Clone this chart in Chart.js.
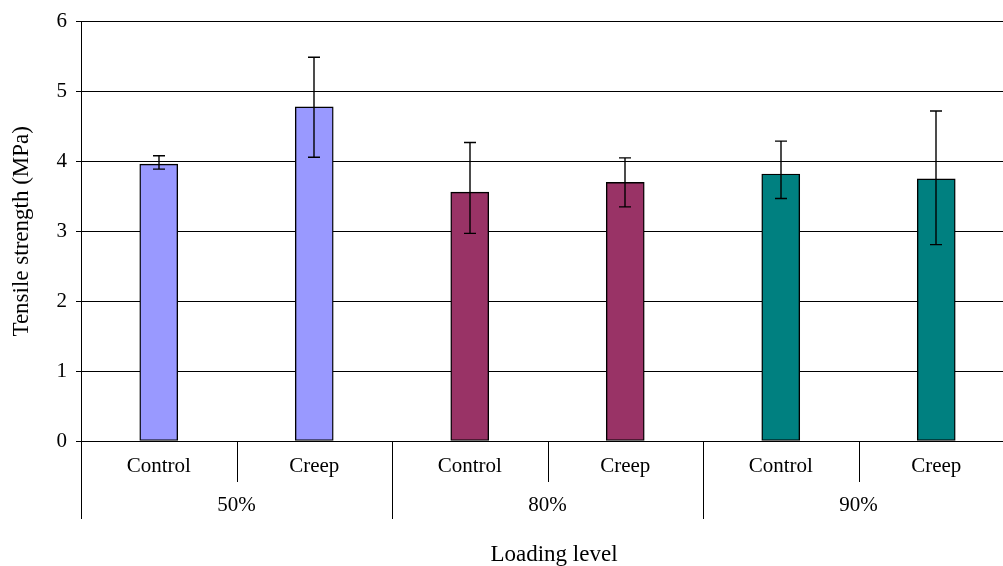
<!DOCTYPE html>
<html>
<head>
<meta charset="utf-8">
<script src="https://cdn.jsdelivr.net/npm/chart.js@4/dist/chart.umd.min.js"></script>
<style>
  html, body { margin: 0; padding: 0; background: #fff; overflow: hidden; }
  #wrap { width: 1003px; height: 566px; overflow: hidden; }
  canvas { display: block; }
</style>
</head>
<body>
<div id="wrap"><canvas id="c" width="1014" height="566"></canvas></div>
<script>
// Tensile strength after sustained loading, by loading level
const categories = ['Control', 'Creep', 'Control', 'Creep', 'Control', 'Creep'];
const loadingLevels = ['50%', '80%', '90%'];
const meanStrength = [3.96, 4.78, 3.56, 3.70, 3.82, 3.75];
const errorHigh = [4.08, 5.49, 4.27, 4.05, 4.29, 4.72];
const errorLow = [3.89, 4.06, 2.97, 3.35, 3.47, 2.81];
const yTickValues = [0, 1, 2, 3, 4, 5, 6];

const levelColors = ['#9999FF', '#993366', '#008080'];
const FONT = '"Liberation Serif", "Times New Roman", serif';

// Error bars drawn from the upper/lower limits through the value scale
const errorBars = {
  id: 'errorBars',
  afterDatasetsDraw(chart) {
    const ctx = chart.ctx;
    const y = chart.scales.y;
    const meta = chart.getDatasetMeta(0);
    ctx.save();
    ctx.strokeStyle = '#000';
    ctx.lineWidth = 1.4;
    meta.data.forEach((bar, i) => {
      const x = Math.round(bar.x);
      const yHi = y.getPixelForValue(errorHigh[i]);
      const yLo = y.getPixelForValue(errorLow[i]);
      ctx.beginPath();
      ctx.moveTo(x, yHi); ctx.lineTo(x, yLo);
      ctx.moveTo(x - 6, yHi); ctx.lineTo(x + 6, yHi);
      ctx.moveTo(x - 6, yLo); ctx.lineTo(x + 6, yLo);
      ctx.stroke();
    });
    ctx.restore();
  }
};

// Two-level category axis: dividers, loading level labels and axis title
const groupedAxis = {
  id: 'groupedAxis',
  afterDraw(chart) {
    const ctx = chart.ctx;
    const xs = chart.scales.x;
    const n = categories.length;
    const w = (xs.right - xs.left) / n;
    const top = xs.top;
    ctx.save();
    ctx.strokeStyle = '#000';
    ctx.lineWidth = 1;
    for (let i = 0; i <= n; i++) {
      const x = Math.round(xs.left + i * w) + 0.5;
      const bottom = (i % 2 === 0) ? 519 : 482;
      ctx.beginPath();
      ctx.moveTo(x, top);
      ctx.lineTo(x, bottom);
      ctx.stroke();
    }
    ctx.fillStyle = '#000';
    ctx.font = '21px ' + FONT;
    ctx.textAlign = 'center';
    ctx.textBaseline = 'middle';
    loadingLevels.forEach((lvl, g) => {
      const cx = (xs.getPixelForValue(g * 2) + xs.getPixelForValue(g * 2 + 1)) / 2;
      ctx.fillText(lvl, cx, 505);
    });
    ctx.font = '23px ' + FONT;
    ctx.fillText('Loading level', 554, 555);
    ctx.restore();
  }
};

new Chart(document.getElementById('c'), {
  type: 'bar',
  data: {
    labels: categories,
    datasets: [{
      data: meanStrength,
      backgroundColor: meanStrength.map((_, i) => levelColors[Math.floor(i / 2)]),
      borderColor: '#000',
      borderWidth: 1.4,
      borderSkipped: false,
      barThickness: 38
    }]
  },
  options: {
    responsive: false,
    animation: false,
    events: [],
    layout: { padding: { top: 20, left: 0, right: 0, bottom: 0 } },
    plugins: { legend: { display: false }, tooltip: { enabled: false } },
    scales: {
      x: {
        type: 'category',
        offset: true,
        grid: { display: false, drawTicks: false },
        border: { display: true, color: '#000', width: 1 },
        ticks: { color: '#000', font: { family: FONT, size: 21 }, padding: 13, maxRotation: 0, autoSkip: false },
        afterFit(scale) { scale.height = 125; }
      },
      y: {
        min: 0,
        max: 6,
        afterBuildTicks(scale) { scale.ticks = yTickValues.map(v => ({ value: v })); },
        grid: { color: '#000', lineWidth: 1, drawTicks: true, tickLength: 5 },
        border: { display: true, color: '#000', width: 1 },
        ticks: { color: '#000', font: { family: FONT, size: 21 }, padding: 9 },
        title: {
          display: true,
          text: 'Tensile strength (MPa)',
          color: '#000',
          font: { family: FONT, size: 23 },
          padding: { top: 8, bottom: 0 }
        },
        afterFit(scale) { scale.width = 81; }
      }
    }
  },
  plugins: [errorBars, groupedAxis]
});
</script>
</body>
</html>
